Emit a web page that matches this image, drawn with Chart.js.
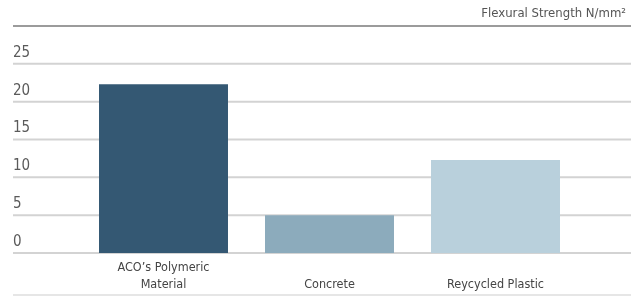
<!DOCTYPE html>
<html>
<head>
<meta charset="utf-8">
<script src="https://cdn.jsdelivr.net/npm/chart.js@4"></script>
<style>
  html, body { margin: 0; padding: 0; background: #fff; }
  #wrap { width: 633px; height: 296px; position: relative; }
</style>
</head>
<body>
<div id="wrap"><canvas id="c" width="633" height="296"></canvas></div>
<script>
const categories = [["ACO\u2019s Polymeric", "Material"], ["", "Concrete"], ["", "Reycycled Plastic"]];
const strengthValues = [22.3, 5.0, 12.3];
const barColors = ["#345873", "#8cabbc", "#b9d0dc"];
const yTickValues = [0, 5, 10, 15, 20, 25, 30];
const yTickLabels = ["0", "5", "10", "15", "20", "25", ""];
const unitTitle = "Flexural Strength N/mm\u00B2";

const FONT = "'Liberation Sans Narrow', 'DejaVu Sans Condensed', 'Open Sans', sans-serif";

const decorPlugin = {
  id: 'decor',
  beforeDatasetsDraw(chart) {
    const ctx = chart.ctx;
    const y = chart.scales.y;
    const x0 = 13, x1 = 631;
    ctx.save();
    y.ticks.forEach((t, i) => {
      const py = y.getPixelForValue(t.value);
      const isTop = i === y.ticks.length - 1;
      ctx.strokeStyle = isTop ? '#7a7a7a' : '#d3d3d3';
      ctx.lineWidth = isTop ? 1.5 : 2;
      ctx.beginPath();
      ctx.moveTo(x0, py);
      ctx.lineTo(x1, py);
      ctx.stroke();
    });
    // bottom rule
    ctx.strokeStyle = '#dedede';
    ctx.lineWidth = 1.5;
    ctx.beginPath();
    ctx.moveTo(x0, chart.height - 1);
    ctx.lineTo(x1, chart.height - 1);
    ctx.stroke();
    // unit title
    ctx.fillStyle = '#555';
    ctx.font = "13px " + FONT;
    ctx.textAlign = 'right';
    ctx.textBaseline = 'alphabetic';
    ctx.fillText(unitTitle, 626, 17);
    ctx.restore();
  }
};

new Chart(document.getElementById('c'), {
  type: 'bar',
  data: {
    labels: categories,
    datasets: [{
      data: strengthValues,
      backgroundColor: barColors,
      borderWidth: 0,
      barPercentage: 0.777,
      categoryPercentage: 1.0
    }]
  },
  options: {
    responsive: false,
    animation: false,
    devicePixelRatio: 1,
    layout: { padding: { left: 13, right: 54.5, top: 26, bottom: 0 } },
    plugins: {
      legend: { display: false },
      tooltip: { enabled: false },
      title: { display: false }
    },
    scales: {
      x: {
        offset: true,
        grid: { display: false, drawTicks: false },
        border: { display: false },
        ticks: {
          color: '#444',
          font: { family: FONT, size: 12.5, lineHeight: 1.36 },
          padding: 6,
          maxRotation: 0,
          autoSkip: false
        },
        afterFit(s) { s.height = 43; }
      },
      y: {
        min: 0,
        max: 30,
        afterBuildTicks(s) { s.ticks = yTickValues.map(v => ({ value: v })); },
        grid: { display: false, drawTicks: false },
        border: { display: false },
        ticks: {
          color: '#5a5a5a',
          font: { family: FONT, size: 15 },
          crossAlign: 'far',
          padding: 0,
          labelOffset: -11,
          callback: (v, i) => yTickLabels[i]
        },
        afterFit(s) { s.width = 67.5; }
      }
    }
  },
  plugins: [decorPlugin]
});
</script>
</body>
</html>
